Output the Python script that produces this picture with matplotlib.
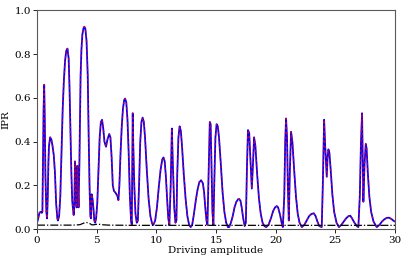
import matplotlib
matplotlib.use("Agg")
import matplotlib.pyplot as plt

plt.rcParams['font.family'] = ['DejaVu Serif']
plt.rcParams['mathtext.fontset'] = 'dejavuserif'

amp = [0.0, 0.1, 0.2, 0.3, 0.4, 0.45, 0.5, 0.55, 0.6, 0.65, 0.7, 0.78, 0.84, 0.9, 0.95,
       1.0, 1.1, 1.2, 1.3, 1.4, 1.5, 1.6, 1.7, 1.75, 1.85, 1.95, 2.05, 2.15, 2.25, 2.35,
       2.45, 2.55, 2.65, 2.72, 2.8, 2.88, 2.95, 3.0, 3.07, 3.12, 3.18, 3.22, 3.28, 3.32,
       3.38, 3.42, 3.48, 3.55, 3.6, 3.65, 3.72, 3.8, 3.9, 3.97, 4.05, 4.15, 4.25, 4.32,
       4.4, 4.47, 4.52, 4.58, 4.65, 4.72, 4.8, 4.87, 4.95, 5.05, 5.15, 5.25, 5.35, 5.45,
       5.55, 5.65, 5.78, 5.9, 6.05, 6.15, 6.25, 6.35, 6.45, 6.6, 6.75, 6.82, 6.9, 7.0,
       7.1, 7.2, 7.3, 7.38, 7.48, 7.58, 7.68, 7.78, 7.88, 7.94, 7.98, 8.02, 8.06, 8.15,
       8.25, 8.36, 8.45, 8.55, 8.65, 8.75, 8.85, 8.95, 9.05, 9.2, 9.35, 9.5, 9.65, 9.75,
       9.9, 10.05, 10.2, 10.35, 10.5, 10.6, 10.7, 10.8, 10.9, 11.0, 11.09, 11.2, 11.3,
       11.38, 11.5, 11.6, 11.68, 11.75, 11.85, 11.95, 12.05, 12.15, 12.3, 12.45, 12.6,
       12.75, 12.88, 13.0, 13.15, 13.3, 13.45, 13.6, 13.75, 13.9, 14.0, 14.1, 14.2, 14.28,
       14.4, 14.48, 14.55, 14.62, 14.7, 14.78, 14.85, 14.95, 15.05, 15.15, 15.25, 15.4,
       15.55, 15.7, 15.85, 16.0, 16.1, 16.25, 16.4, 16.55, 16.7, 16.85, 16.95, 17.05,
       17.15, 17.28, 17.4, 17.5, 17.6, 17.68, 17.78, 17.9, 18.0, 18.1, 18.19, 18.3, 18.45,
       18.6, 18.75, 18.9, 19.05, 19.2, 19.4, 19.6, 19.8, 19.95, 20.09, 20.2, 20.35, 20.5,
       20.6, 20.72, 20.8, 20.87, 20.95, 21.02, 21.1, 21.18, 21.29, 21.4, 21.55, 21.7,
       21.85, 22.0, 22.19, 22.4, 22.6, 22.8, 23.0, 23.2, 23.35, 23.5, 23.65, 23.86, 23.95,
       24.06, 24.15, 24.28, 24.35, 24.42, 24.5, 24.6, 24.75, 24.9, 25.1, 25.3, 25.5, 25.7,
       25.9, 26.1, 26.25, 26.4, 26.6, 26.8, 26.93, 27.05, 27.15, 27.24, 27.3, 27.35, 27.45,
       27.55, 27.62, 27.72, 27.85, 28.0, 28.2, 28.47, 28.7, 28.9, 29.1, 29.3, 29.5, 29.7,
       29.85, 30.0]

ipr = [0.03, 0.05, 0.075, 0.08, 0.075, 0.08, 0.3, 0.55, 0.66, 0.5, 0.25, 0.08, 0.05, 0.15, 0.3,
       0.38, 0.42, 0.41, 0.38, 0.34, 0.26, 0.12, 0.05, 0.04, 0.06, 0.15, 0.35, 0.55, 0.68, 0.77,
       0.815, 0.825, 0.78, 0.65, 0.45, 0.25, 0.13, 0.1, 0.065, 0.1, 0.31, 0.2, 0.13, 0.1,
       0.29, 0.2, 0.1, 0.3, 0.5, 0.7, 0.82, 0.89, 0.92, 0.925, 0.915, 0.86, 0.7, 0.45,
       0.2, 0.06, 0.05, 0.16, 0.14, 0.1, 0.04, 0.03, 0.05, 0.12, 0.27, 0.42, 0.49, 0.5,
       0.46, 0.4, 0.377, 0.41, 0.435, 0.42, 0.33, 0.2, 0.175, 0.165, 0.15, 0.133, 0.2, 0.35,
       0.47, 0.55, 0.59, 0.597, 0.58, 0.5, 0.35, 0.15, 0.04, 0.02, 0.3, 0.53, 0.4, 0.2,
       0.07, 0.03, 0.04, 0.2, 0.4, 0.49, 0.51, 0.49, 0.42, 0.27, 0.14, 0.06, 0.025, 0.02,
       0.04, 0.1, 0.19, 0.27, 0.32, 0.328, 0.31, 0.24, 0.14, 0.05, 0.02, 0.2, 0.46,
       0.3, 0.1, 0.03, 0.04, 0.25, 0.42, 0.47, 0.45, 0.38, 0.25, 0.14, 0.06,
       0.02, 0.01, 0.02, 0.07, 0.13, 0.18, 0.215, 0.224, 0.21, 0.17, 0.1, 0.04, 0.02,
       0.3, 0.49, 0.48, 0.3, 0.08, 0.02, 0.2, 0.42, 0.48, 0.47, 0.42, 0.3,
       0.17, 0.08, 0.03, 0.01, 0.01, 0.03, 0.06, 0.1, 0.125, 0.137, 0.138, 0.13,
       0.1, 0.05, 0.015, 0.03, 0.3, 0.453, 0.44, 0.3, 0.186, 0.3, 0.42, 0.38, 0.25,
       0.14, 0.07, 0.03, 0.015, 0.01, 0.02, 0.05, 0.085, 0.1, 0.106, 0.1, 0.07, 0.03,
       0.01, 0.15, 0.4, 0.506, 0.42, 0.2, 0.04, 0.25, 0.445, 0.4, 0.27, 0.15,
       0.07, 0.03, 0.01, 0.02, 0.04, 0.06, 0.07, 0.073, 0.06, 0.035, 0.015, 0.01, 0.2,
       0.5, 0.38, 0.24, 0.33, 0.365, 0.35, 0.28, 0.16, 0.08, 0.03, 0.01, 0.02, 0.035,
       0.05, 0.06, 0.062, 0.05, 0.03, 0.015, 0.01, 0.15, 0.4, 0.53, 0.3, 0.126, 0.3,
       0.39, 0.37, 0.26, 0.15, 0.08, 0.035, 0.01, 0.02, 0.035, 0.045, 0.052, 0.053, 0.047,
       0.04, 0.035]

amp_ref = [0.0, 1.0, 2.0, 3.0, 3.6, 3.9, 4.15, 4.4, 4.6, 4.8, 5.1, 5.4, 6.0, 8.0, 10.0,
           15.0, 20.0, 25.0, 30.0]
ipr_ref = [0.019, 0.019, 0.019, 0.019, 0.021, 0.028, 0.031, 0.027, 0.02, 0.021, 0.024,
           0.021, 0.019, 0.018, 0.018, 0.018, 0.018, 0.018, 0.018]

fig = plt.figure(figsize=(4.07, 2.61), dpi=100)
ax = fig.add_axes([0.091, 0.1215, 0.8795, 0.839])
ax.plot(amp, ipr, color='blue', lw=1.3, solid_joinstyle='round')
ax.plot(amp, ipr, color='red', lw=1.0, ls='--', dashes=(1.5, 2), alpha=0.75)
ax.plot(amp_ref, ipr_ref, color='black', lw=0.9, ls='-.')

ax.set_xlim(0, 30)
ax.set_ylim(0, 1.0)
ax.set_xticks([0, 5, 10, 15, 20, 25, 30])
ax.set_yticks([0.0, 0.2, 0.4, 0.6, 0.8, 1.0])
ax.tick_params(labelsize=7.5, length=3, width=0.6, pad=1.5)
ax.set_xlabel('Driving amplitude', fontsize=7.5, labelpad=1)
ax.set_ylabel('IPR', fontsize=7.5, labelpad=3)
for s in ax.spines.values():
    s.set_color('0.35')
    s.set_linewidth(0.8)

fig.savefig('out.png', dpi=100)
